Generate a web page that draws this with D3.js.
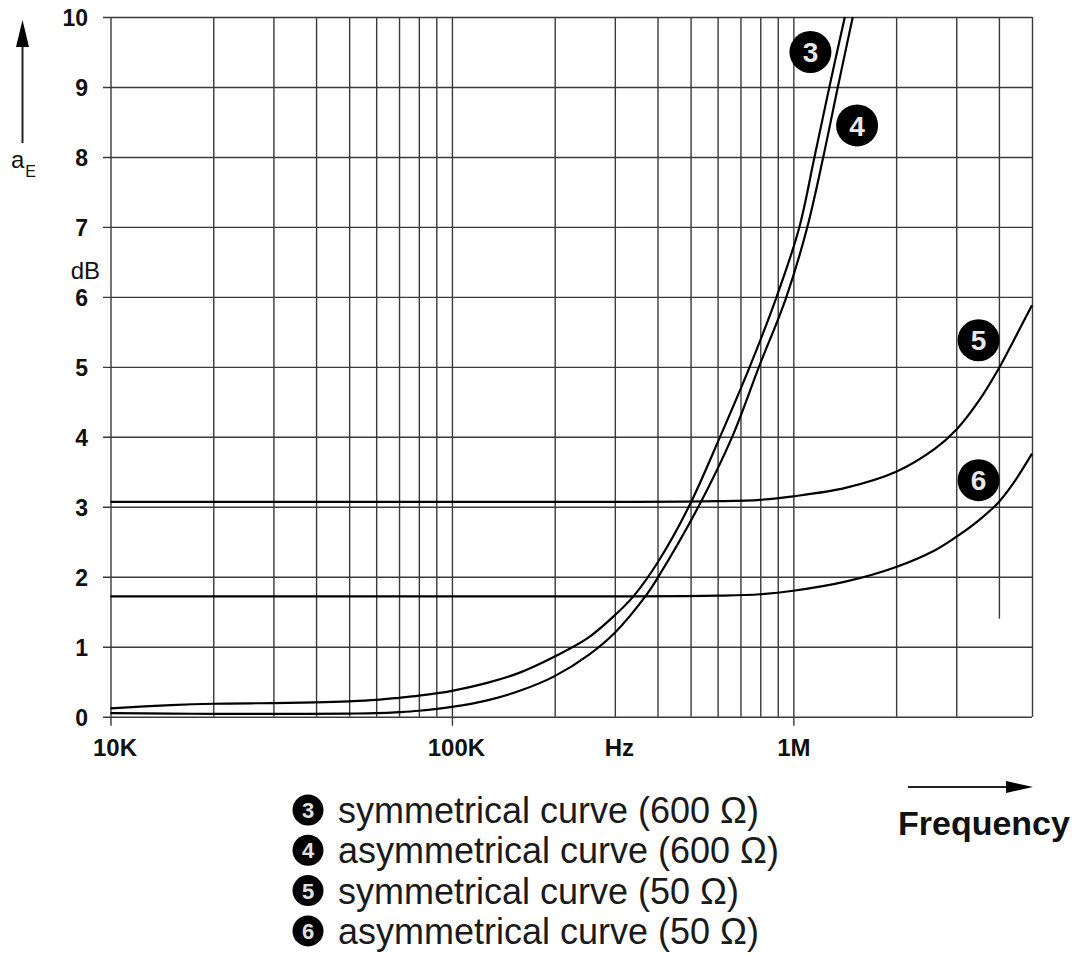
<!DOCTYPE html>
<html>
<head>
<meta charset="utf-8">
<script src="https://cdn.jsdelivr.net/npm/d3@7"></script>
<style>
  html, body { margin: 0; padding: 0; background: #fff; }
  svg { display: block; font-family: "Liberation Sans", Arial, Helvetica, sans-serif; }
</style>
</head>
<body>
<svg id="chart" width="1084" height="955"></svg>
<script>
// ---------- data ----------
const yTickValues = [0, 1, 2, 3, 4, 5, 6, 7, 8, 9, 10];
const xGridValues = [
  1e4, 2e4, 3e4, 4e4, 5e4, 6e4, 7e4, 8e4, 9e4,
  1e5, 2e5, 3e5, 4e5, 5e5, 6e5, 7e5, 8e5, 9e5,
  1e6, 2e6, 3e6, 4e6, 5e6
];
const xDecadeTicks = [1e4, 1e5, 1e6];
const xTickValues = [1e4, 1e5, 3e5, 1e6];
const xTickLabels = ["10K", "100K", "Hz", "1M"];

// curve 3: symmetrical (600 ohm)  [frequency Hz, attenuation dB]
const sym600 = [
  [1e4, 0.12], [1.5e4, 0.165], [2e4, 0.185], [3e4, 0.195], [4e4, 0.205], [5e4, 0.22],
  [6e4, 0.24], [7e4, 0.27], [8e4, 0.3], [1e5, 0.37], [1.26e5, 0.48], [1.58e5, 0.63],
  [2e5, 0.86], [2.51e5, 1.13], [3e5, 1.45], [3.4e5, 1.72], [4e5, 2.2], [4.94e5, 3.0],
  [6.1e5, 4.0], [7.45e5, 5.0], [8.9e5, 5.98], [1.038e6, 6.97], [1.15e6, 7.97],
  [1.275e6, 9.0], [1.415e6, 10.0]
];
// curve 4: asymmetrical (600 ohm)
const asym600 = [
  [1e4, 0.05], [1.5e4, 0.045], [2e4, 0.04], [3e4, 0.04], [5e4, 0.045], [6e4, 0.05],
  [7e4, 0.065], [8e4, 0.085], [1e5, 0.14], [1.26e5, 0.23], [1.58e5, 0.37], [2e5, 0.58],
  [2.51e5, 0.88], [3e5, 1.2], [3.7e5, 1.73], [4e5, 1.98], [5.27e5, 3.0], [6.62e5, 4.0],
  [7.93e5, 5.0], [9.51e5, 5.98], [1.095e6, 6.97], [1.22e6, 7.97], [1.35e6, 9.0],
  [1.493e6, 10.0]
];
// curve 5: symmetrical (50 ohm)
const sym50 = [
  [1e4, 3.07], [1e5, 3.07], [3e5, 3.07], [6e5, 3.08], [8e5, 3.1], [1e6, 3.15],
  [1.42e6, 3.27], [2e6, 3.5], [2.6e6, 3.83], [3e6, 4.1], [3.5e6, 4.52], [4e6, 4.98],
  [4.4e6, 5.36], [5e6, 5.88]
];
// curve 6: asymmetrical (50 ohm)
const asym50 = [
  [1e4, 1.72], [1e5, 1.72], [3e5, 1.72], [6e5, 1.73], [8e5, 1.75], [1e6, 1.8],
  [1.42e6, 1.93], [2e6, 2.14], [2.6e6, 2.38], [3e6, 2.57], [3.5e6, 2.81], [4e6, 3.07],
  [4.4e6, 3.33], [5e6, 3.76]
];

const seriesList = [sym600, asym600, sym50, asym50];
const badgeNumbers = ["3", "4", "5", "6"];
// badge anchor positions in data space [frequency, dB]
const badgeAnchors = [[1.122e6, 9.5], [1.537e6, 8.45], [3.487e6, 5.38], [3.487e6, 3.38]];
const legendLabels = [
  "symmetrical curve (600 \u03A9)",
  "asymmetrical curve (600 \u03A9)",
  "symmetrical curve (50 \u03A9)",
  "asymmetrical curve (50 \u03A9)"
];

// ---------- layout ----------
const svg = d3.select("#chart");
svg.append("rect").attr("width", 1084).attr("height", 955).attr("fill", "#fff");

const x = d3.scaleLog().domain([1e4, 5e6]).range([110.5, 1032]);
const y = d3.scaleLinear().domain([0, 10]).range([716.7, 17]);

const gridColor = "#3a3a3a";
const gridWidth = 1.4;

// vertical grid lines (the 4M line is only partly printed in the original)
const gV = svg.append("g")
  .attr("transform", `translate(0,${y(0)})`)
  .call(d3.axisBottom(x)
    .tickValues(xGridValues.filter(v => v !== 4e6))
    .tickSize(-(y(0) - y(10)))
    .tickFormat(""));
gV.select(".domain").remove();
gV.selectAll(".tick line").attr("stroke", gridColor).attr("stroke-width", gridWidth);

const gV4 = svg.append("g")
  .attr("transform", `translate(0,${y(1.4)})`)
  .call(d3.axisBottom(x)
    .tickValues([4e6])
    .tickSize(-(y(1.4) - y(10)))
    .tickFormat(""));
gV4.select(".domain").remove();
gV4.selectAll(".tick line").attr("stroke", gridColor).attr("stroke-width", gridWidth);

// decade ticks extending below axis
const gD = svg.append("g")
  .attr("transform", `translate(0,${y(0)})`)
  .call(d3.axisBottom(x).tickValues(xDecadeTicks).tickSize(9).tickFormat(""));
gD.select(".domain").remove();
gD.selectAll(".tick line").attr("stroke", gridColor).attr("stroke-width", gridWidth);

// horizontal grid lines + y labels
const gH = svg.append("g")
  .attr("transform", `translate(103,0)`)
  .call(d3.axisLeft(y)
    .tickValues(yTickValues)
    .tickSize(-(x(5e6) - 103))
    .tickPadding(15)
    .tickFormat(d3.format("d")));
gH.select(".domain").remove();
gH.selectAll(".tick line").attr("stroke", gridColor).attr("stroke-width", gridWidth);
gH.selectAll(".tick text")
  .attr("fill", "#111")
  .attr("font-family", "'Liberation Sans', Arial, sans-serif")
  .attr("font-size", 23)
  .attr("font-weight", "bold")
  .attr("dy", "0.38em");

// x labels
const gX = svg.append("g")
  .attr("transform", `translate(0,${y(0)})`)
  .call(d3.axisBottom(x)
    .tickValues(xTickValues)
    .tickSize(0)
    .tickPadding(22)
    .tickFormat((d, i) => xTickLabels[i]));
gX.select(".domain").remove();
gX.selectAll(".tick text")
  .attr("fill", "#111")
  .attr("font-family", "'Liberation Sans', Arial, sans-serif")
  .attr("font-size", 24)
  .attr("font-weight", "bold")
  .attr("dx", (d, i) => (i === 3 ? 0 : 4));

// curves
const line = d3.line()
  .x(d => x(d[0]))
  .y(d => y(d[1]))
  .curve(d3.curveCatmullRom.alpha(0.5));

svg.append("g").selectAll("path")
  .data(seriesList)
  .join("path")
  .attr("d", line)
  .attr("fill", "none")
  .attr("stroke", "#000")
  .attr("stroke-width", 2.2)
  .attr("stroke-linejoin", "round");

// curve badges
const badges = svg.append("g").selectAll("g")
  .data(badgeAnchors)
  .join("g")
  .attr("transform", d => `translate(${x(d[0])},${y(d[1])})`);
badges.append("circle").attr("r", 21).attr("fill", "#000");
badges.append("text")
  .text((d, i) => badgeNumbers[i])
  .attr("text-anchor", "middle")
  .attr("dy", "0.36em")
  .attr("fill", "#e8e8e8")
  .attr("font-size", 28)
  .attr("font-weight", "bold");

// y axis title: arrow + a_E + dB
svg.append("line")
  .attr("x1", 22.5).attr("x2", 22.5).attr("y1", 44).attr("y2", 143)
  .attr("stroke", "#222").attr("stroke-width", 2);
svg.append("path")
  .attr("d", "M22.5,20 L29,47 L16,47 Z")
  .attr("fill", "#000");
const aE = svg.append("text").attr("x", 11).attr("y", 168).attr("fill", "#111");
aE.append("tspan").attr("font-size", 24).text("a");
aE.append("tspan").attr("font-size", 16).attr("dy", 9).attr("dx", 1).text("E");
svg.append("text")
  .attr("x", 100).attr("y", 279)
  .attr("text-anchor", "end")
  .attr("font-size", 24)
  .attr("fill", "#111")
  .text("dB");

// Frequency arrow and label
svg.append("line")
  .attr("x1", 908).attr("x2", 1012).attr("y1", 787).attr("y2", 787)
  .attr("stroke", "#222").attr("stroke-width", 2);
svg.append("path")
  .attr("d", "M1033,787 L1006,781 L1006,793 Z")
  .attr("fill", "#000");
svg.append("text")
  .attr("x", 898).attr("y", 835)
  .attr("font-size", 34)
  .attr("font-weight", "bold")
  .attr("fill", "#111")
  .text("Frequency");

// legend
const legend = svg.append("g").selectAll("g")
  .data(legendLabels)
  .join("g")
  .attr("transform", (d, i) => `translate(308,${810 + i * 40.3})`);
legend.append("circle").attr("r", 15.5).attr("fill", "#000");
legend.append("text")
  .text((d, i) => badgeNumbers[i])
  .attr("text-anchor", "middle")
  .attr("dy", "0.36em")
  .attr("fill", "#e0e0e0")
  .attr("font-size", 22)
  .attr("font-weight", "bold");
legend.append("text")
  .text(d => d)
  .attr("x", 30)
  .attr("y", 13)
  .attr("font-size", 36)
  .attr("fill", "#1a1a1a");
</script>
</body>
</html>
